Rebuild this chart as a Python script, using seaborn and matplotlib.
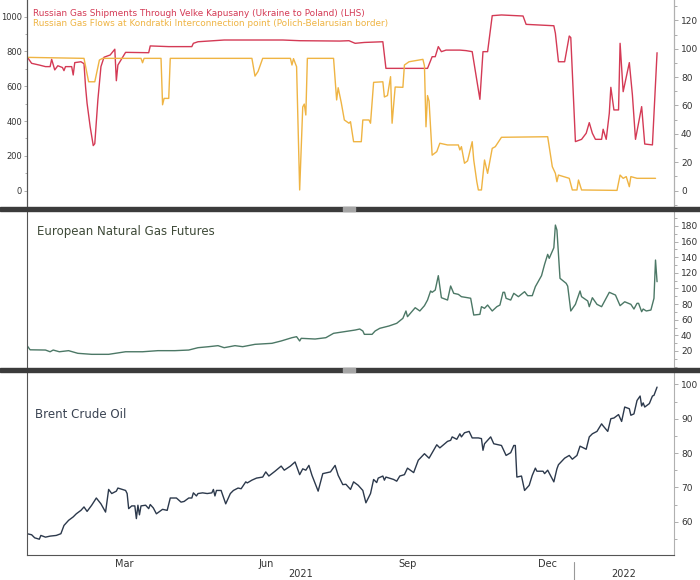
import pandas as pd
import matplotlib
matplotlib.use("Agg")
import matplotlib.pyplot as plt
import matplotlib.dates as mdates
import matplotlib.transforms as mtransforms
from matplotlib.ticker import MultipleLocator, NullFormatter
import seaborn as sns

# Russian gas shipments through Velke Kapusany (LHS)
red_dates = ["2021-01-11", "2021-01-14", "2021-01-19", "2021-01-23", "2021-01-26", "2021-01-27",
             "2021-01-28", "2021-01-29", "2021-01-31", "2021-02-03", "2021-02-04", "2021-02-05",
             "2021-02-09", "2021-02-10", "2021-02-11", "2021-02-15", "2021-02-17", "2021-02-18",
             "2021-02-19", "2021-02-21", "2021-02-23", "2021-02-24", "2021-02-26", "2021-02-28",
             "2021-03-02", "2021-03-06", "2021-03-09", "2021-03-10", "2021-03-11", "2021-03-16",
             "2021-03-31", "2021-04-01", "2021-04-13", "2021-04-28", "2021-04-29", "2021-05-02",
             "2021-05-19", "2021-06-26", "2021-07-07", "2021-08-02", "2021-08-08", "2021-08-12",
             "2021-08-18", "2021-08-30", "2021-09-01", "2021-09-14", "2021-09-28", "2021-10-01",
             "2021-10-03", "2021-10-05", "2021-10-07", "2021-10-10", "2021-10-19", "2021-10-23",
             "2021-10-27", "2021-11-01", "2021-11-03", "2021-11-06", "2021-11-09", "2021-11-15",
             "2021-11-29", "2021-12-01", "2021-12-19", "2021-12-20", "2021-12-22", "2021-12-26",
             "2021-12-29", "2021-12-30", "2022-01-02", "2022-01-06", "2022-01-09", "2022-01-11",
             "2022-01-13", "2022-01-15", "2022-01-19", "2022-01-20", "2022-01-22", "2022-01-24",
             "2022-01-25", "2022-01-27", "2022-01-30", "2022-01-31", "2022-02-02", "2022-02-06",
             "2022-02-08", "2022-02-10", "2022-02-14", "2022-02-16", "2022-02-21", "2022-02-24"]
red_vals = [770, 732, 722, 713, 713, 755,
            725, 694, 718, 708, 690, 713,
            713, 665, 736, 741, 730, 598,
            502, 368, 259, 270, 521, 713,
            767, 780, 813, 632, 722, 795,
            793, 832, 828, 828, 847, 856,
            866, 866, 862, 860, 862, 847,
            852, 856, 703, 703, 703, 770,
            770, 828, 799, 808, 808, 805,
            799, 525, 799, 799, 1006, 1010,
            1004, 956, 948, 905, 741, 741,
            889, 880, 282, 295, 330, 391,
            330, 295, 295, 353, 295, 445,
            594, 464, 464, 847, 569, 736,
            550, 295, 483, 268, 263, 793]

# Russian gas flows at Kondratki (RHS)
yel_dates = ["2021-01-11", "2021-02-17", "2021-02-20", "2021-02-24", "2021-02-27", "2021-03-01",
             "2021-03-26", "2021-03-27", "2021-03-28", "2021-04-08", "2021-04-09", "2021-04-10",
             "2021-04-13", "2021-04-14", "2021-06-06", "2021-06-08", "2021-06-10", "2021-06-13",
             "2021-07-01", "2021-07-02", "2021-07-03", "2021-07-05", "2021-07-07", "2021-07-09",
             "2021-07-10", "2021-07-11", "2021-07-12", "2021-07-29", "2021-07-31", "2021-08-01",
             "2021-08-03", "2021-08-05", "2021-08-08", "2021-08-09", "2021-08-11", "2021-08-16",
             "2021-08-17", "2021-08-21", "2021-08-22", "2021-08-24", "2021-08-30", "2021-08-31",
             "2021-09-02", "2021-09-04", "2021-09-05", "2021-09-07", "2021-09-12", "2021-09-13",
             "2021-09-16", "2021-09-25", "2021-09-26", "2021-09-27", "2021-09-28", "2021-09-29",
             "2021-10-01", "2021-10-04", "2021-10-06", "2021-10-11", "2021-10-18", "2021-10-19",
             "2021-10-20", "2021-10-22", "2021-10-24", "2021-10-27", "2021-10-28", "2021-10-30",
             "2021-10-31", "2021-11-02", "2021-11-04", "2021-11-06", "2021-11-09", "2021-11-11",
             "2021-11-15", "2021-12-15", "2021-12-18", "2021-12-20", "2021-12-21", "2021-12-22",
             "2021-12-29", "2021-12-31", "2022-01-03", "2022-01-04", "2022-01-06", "2022-01-29",
             "2022-01-31", "2022-02-02", "2022-02-04", "2022-02-06", "2022-02-07", "2022-02-11",
             "2022-02-23"]
yel_vals = [93.9, 93.2, 76.7, 76.7, 92, 93.2,
            93.2, 90.1, 93.2, 93.2, 60.5, 65,
            65, 93.2, 93.2, 80.7, 84, 93.2,
            93.2, 88.5, 93, 87.3, 0.5, 59,
            61, 53.3, 93.2, 93.2, 63.9, 72.5,
            62, 49.8, 47.5, 48.6, 34.5, 34.5,
            49.8, 49.8, 47.5, 76.3, 76.7, 66,
            67, 80.3, 47.5, 73, 72.8, 88.5,
            90.8, 92.5, 88, 45, 67, 63,
            25, 27.5, 33.4, 32.2, 32.2, 28.7,
            31, 19.3, 21, 34.5, 21.6, 6.3,
            0.5, 0.5, 21.6, 12.2, 29.8, 31,
            37.6, 38, 16.9, 12.2, 6.3, 11,
            8.7, 0.5, 0.5, 7.5, 0.5, 0.2,
            11, 8.7, 9.9, 2.8, 9.9, 8.7,
            8.7]

# European natural gas futures
gas_dates = ["2021-01-11", "2021-01-13", "2021-01-23", "2021-01-26", "2021-01-28", "2021-02-01",
             "2021-02-07", "2021-02-13", "2021-02-22", "2021-03-05", "2021-03-16", "2021-03-27",
             "2021-04-06", "2021-04-17", "2021-04-26", "2021-05-02", "2021-05-09", "2021-05-15",
             "2021-05-19", "2021-05-26", "2021-05-31", "2021-06-08", "2021-06-19", "2021-06-25",
             "2021-07-02", "2021-07-05", "2021-07-07", "2021-07-08", "2021-07-17", "2021-07-24",
             "2021-07-29", "2021-08-05", "2021-08-12", "2021-08-15", "2021-08-17", "2021-08-18",
             "2021-08-23", "2021-08-25", "2021-08-28", "2021-09-03", "2021-09-08", "2021-09-12",
             "2021-09-14", "2021-09-15", "2021-09-20", "2021-09-23", "2021-09-26", "2021-09-28",
             "2021-09-30", "2021-10-01", "2021-10-03", "2021-10-05", "2021-10-06", "2021-10-07",
             "2021-10-11", "2021-10-13", "2021-10-15", "2021-10-18", "2021-10-20", "2021-10-24",
             "2021-10-26", "2021-10-28", "2021-11-01", "2021-11-02", "2021-11-04", "2021-11-06",
             "2021-11-09", "2021-11-12", "2021-11-14", "2021-11-16", "2021-11-17", "2021-11-18",
             "2021-11-21", "2021-11-23", "2021-11-26", "2021-11-30", "2021-12-02", "2021-12-05",
             "2021-12-07", "2021-12-11", "2021-12-13", "2021-12-15", "2021-12-16", "2021-12-19",
             "2021-12-20", "2021-12-21", "2021-12-23", "2021-12-27", "2021-12-28", "2021-12-30",
             "2022-01-02", "2022-01-05", "2022-01-06", "2022-01-10", "2022-01-11", "2022-01-13",
             "2022-01-16", "2022-01-19", "2022-01-24", "2022-01-28", "2022-01-31", "2022-02-03",
             "2022-02-07", "2022-02-09", "2022-02-11", "2022-02-12", "2022-02-14", "2022-02-15",
             "2022-02-17", "2022-02-20", "2022-02-22", "2022-02-23", "2022-02-24"]
gas_vals = [27, 21.5, 21.2, 19, 21.2, 19,
            20.4, 17, 15.7, 15.7, 19, 19,
            20.4, 20.4, 21.2, 24.2, 25.5, 26.8,
            24.2, 26.8, 25.5, 28.5, 29.8, 32.8,
            37, 38.3, 32.8, 36.2, 35.3, 37,
            42.6, 44.7, 46.8, 48.1, 45.6, 41.3,
            41.3, 45.6, 49, 52, 55.4, 61.8,
            71.2, 63.9, 75.4, 71.2, 78, 85.2,
            96.8, 95.1, 98, 116.4, 102.3, 88.2,
            85.2, 103.2, 93.8, 92.5, 89.5, 88.2,
            87.5, 66, 66.9, 76.7, 74.6, 78.8,
            71.2, 76.7, 78.8, 95.1, 95.1, 87.4,
            85.2, 93.8, 89.5, 95.9, 90.8, 90.8,
            102.3, 116.4, 131, 143.7, 138.6, 152.2,
            181.2, 174.8, 113, 106.6, 103, 71.2,
            79.7, 96.8, 89.5, 84, 76.7, 88.2,
            79.7, 76.7, 95.1, 91.6, 78, 83,
            79.7, 73.7, 81, 81, 70.3, 73.7,
            71.2, 72.4, 87.4, 136.4, 108.7]

# Brent crude oil
brent_dates = ["2021-01-11", "2021-01-14", "2021-01-16", "2021-01-19", "2021-01-20", "2021-01-23",
               "2021-01-26", "2021-01-30", "2021-02-02", "2021-02-04", "2021-02-07", "2021-02-10",
               "2021-02-12", "2021-02-15", "2021-02-17", "2021-02-19", "2021-02-22", "2021-02-25",
               "2021-02-28", "2021-03-03", "2021-03-05", "2021-03-07", "2021-03-10", "2021-03-11",
               "2021-03-16", "2021-03-17", "2021-03-18", "2021-03-20", "2021-03-22", "2021-03-23",
               "2021-03-24", "2021-03-25", "2021-03-26", "2021-03-29", "2021-03-31", "2021-04-01",
               "2021-04-03", "2021-04-05", "2021-04-09", "2021-04-12", "2021-04-14", "2021-04-18",
               "2021-04-21", "2021-04-23", "2021-04-26", "2021-04-28", "2021-04-29", "2021-05-01",
               "2021-05-02", "2021-05-05", "2021-05-08", "2021-05-11", "2021-05-12", "2021-05-13",
               "2021-05-14", "2021-05-17", "2021-05-20", "2021-05-23", "2021-05-25", "2021-05-28",
               "2021-05-30", "2021-06-02", "2021-06-03", "2021-06-06", "2021-06-09", "2021-06-13",
               "2021-06-15", "2021-06-17", "2021-06-21", "2021-06-25", "2021-06-27", "2021-07-01",
               "2021-07-04", "2021-07-07", "2021-07-09", "2021-07-11", "2021-07-13", "2021-07-15",
               "2021-07-19", "2021-07-22", "2021-07-27", "2021-07-30", "2021-08-01", "2021-08-04",
               "2021-08-06", "2021-08-09", "2021-08-11", "2021-08-14", "2021-08-17", "2021-08-19",
               "2021-08-22", "2021-08-24", "2021-08-26", "2021-08-27", "2021-08-30", "2021-08-31",
               "2021-09-01", "2021-09-06", "2021-09-08", "2021-09-10", "2021-09-13", "2021-09-15",
               "2021-09-19", "2021-09-22", "2021-09-26", "2021-09-29", "2021-10-04", "2021-10-06",
               "2021-10-11", "2021-10-13", "2021-10-14", "2021-10-17", "2021-10-19", "2021-10-20",
               "2021-10-22", "2021-10-25", "2021-10-27", "2021-10-31", "2021-11-02", "2021-11-03",
               "2021-11-04", "2021-11-08", "2021-11-10", "2021-11-15", "2021-11-17", "2021-11-18",
               "2021-11-21", "2021-11-23", "2021-11-24", "2021-11-25", "2021-11-28", "2021-11-30",
               "2021-12-03", "2021-12-05", "2021-12-07", "2021-12-08", "2021-12-12", "2021-12-13",
               "2021-12-15", "2021-12-19", "2021-12-21", "2021-12-22", "2021-12-26", "2021-12-29",
               "2021-12-31", "2022-01-03", "2022-01-05", "2022-01-09", "2022-01-11", "2022-01-13",
               "2022-01-16", "2022-01-19", "2022-01-20", "2022-01-23", "2022-01-25", "2022-01-27",
               "2022-01-30", "2022-02-01", "2022-02-03", "2022-02-06", "2022-02-07", "2022-02-09",
               "2022-02-11", "2022-02-13", "2022-02-14", "2022-02-15", "2022-02-16", "2022-02-19",
               "2022-02-21", "2022-02-22", "2022-02-24"]
brent_vals = [56.5, 56.2, 55.3, 54.9, 56, 55.5,
              55.8, 56, 56.5, 58.9, 60.4, 61.4,
              62.3, 63.3, 64.3, 63, 64.8, 66.9,
              65.2, 62.8, 69.4, 68.2, 68.9, 69.8,
              69.1, 68.2, 63.8, 64.6, 64.6, 60.9,
              64.8, 62, 64.6, 64.8, 63.8, 65,
              64, 62.3, 63.6, 63.3, 66.9, 66.9,
              65.7, 65.9, 66.9, 66.9, 68.4, 67.5,
              68.2, 68.4, 68.2, 68.4, 69.4, 67.5,
              69.1, 69.1, 65.2, 68.2, 69.1, 69.8,
              69.6, 71.6, 71.3, 72.1, 72.7, 73,
              74.5, 73.3, 74.7, 76.2, 75, 76.2,
              77.4, 73.7, 75.4, 75, 76.4, 73.5,
              68.9, 74, 74.5, 76.4, 73.5, 70.8,
              70.9, 69.4, 71.6, 70.6, 69.1, 65.5,
              68.2, 72.3, 71.4, 72.7, 73.3, 72.1,
              73, 72.3, 71.8, 73.3, 73.7, 75.6,
              74.3, 77.9, 79.8, 78.5, 82.4, 81.5,
              83.4, 83.7, 84.7, 84, 85.6, 84.7,
              85.9, 86.3, 84.4, 84.4, 84.2, 80.8,
              82.7, 84.7, 82.7, 82.2, 80.3, 79.3,
              80.1, 82.2, 82.2, 73, 73.3, 69.1,
              70.6, 73.5, 75.6, 74.7, 74.7, 74,
              75, 71.6, 75.4, 76.6, 78.5, 79.3,
              78.2, 79.3, 82, 81.1, 84.7, 85.6,
              86.3, 88.5, 87.9, 86.3, 90, 90.2,
              91.2, 89.2, 93.4, 92.9, 91, 91.4,
              95.3, 96.6, 93.7, 94.6, 93.4, 94.4,
              96.6, 96.8, 99.2]

red_label = "Russian Gas Shipments Through Velke Kapusany (Ukraine to Poland) (LHS)"
yel_label = "Russian Gas Flows at Kondratki Interconnection point (Polich-Belarusian border)"
gas_label = "European Natural Gas Futures"
brent_label = "Brent Crude Oil"

RED = "#d43a55"
YEL = "#efb443"
GREEN = "#4c7866"
NAVY = "#2c394c"

sns.set_style("white")
plt.rcParams["font.family"] = ["Liberation Sans Narrow", "DejaVu Sans"]

W, H = 700, 580
fig = plt.figure(figsize=(7, 5.8), dpi=100)

def px_axes(top, bottom):
    return fig.add_axes([27 / W, (H - bottom) / H, 647 / W, (bottom - top) / H])

x0, x1 = pd.Timestamp("2021-01-11"), pd.Timestamp("2022-03-07")

ax1 = px_axes(0, 207)
ax1r = ax1.twinx()
ax2 = px_axes(211, 368)
ax3 = px_axes(372, 555)

sns.lineplot(x=pd.to_datetime(red_dates), y=red_vals, ax=ax1, color=RED, linewidth=1.0)
sns.lineplot(x=pd.to_datetime(yel_dates), y=yel_vals, ax=ax1r, color=YEL, linewidth=1.0)
sns.lineplot(x=pd.to_datetime(gas_dates), y=gas_vals, ax=ax2, color=GREEN, linewidth=1.0)
sns.lineplot(x=pd.to_datetime(brent_dates), y=brent_vals, ax=ax3, color=NAVY, linewidth=1.0)

ax1.set_ylim(-94, 1096)
ax1r.set_ylim(-11.5, 134.3)
ax2.set_ylim(-1.8, 199.2)
ax3.set_ylim(50.3, 103.6)

for ax in (ax1, ax1r, ax2, ax3):
    ax.set_xlim(x0, x1)
    ax.set_xlabel("")
    ax.set_ylabel("")
    ax.spines["top"].set_visible(False)
    ax.spines["left"].set_color("#555555")
    ax.spines["left"].set_linewidth(0.8)
    ax.spines["right"].set_color("#b0b0b0")
    ax.spines["right"].set_linewidth(0.8)
    ax.tick_params(axis="y", which="both", colors="#a0a0a0", labelcolor="#333333",
                   labelsize=6.5, length=3, width=0.6, pad=2)
    ax.tick_params(axis="y", which="minor", length=2)

for ax in (ax1, ax1r, ax2):
    ax.spines["bottom"].set_visible(False)
    ax.tick_params(axis="x", which="both", bottom=False, labelbottom=False)

# top panel: left axis for shipments, right axis for flows
ax1.yaxis.set_major_locator(MultipleLocator(200))
ax1.yaxis.set_minor_locator(MultipleLocator(100))
ax1.tick_params(axis="y", which="both", left=True, right=False, labelsize=6, length=2.5, pad=1)
ax1.tick_params(axis="y", which="minor", length=1.5)
ax1r.yaxis.set_major_locator(MultipleLocator(20))
ax1r.yaxis.set_minor_locator(MultipleLocator(10))

# middle panel
ax2.yaxis.tick_right()
ax2.set_yticks(range(20, 200, 20))
ax2.yaxis.set_minor_locator(MultipleLocator(10))

# bottom panel
ax3.yaxis.tick_right()
ax3.yaxis.set_major_locator(MultipleLocator(10))
ax3.yaxis.set_minor_locator(MultipleLocator(5))
ax3.spines["bottom"].set_color("#555555")
ax3.spines["bottom"].set_linewidth(0.8)
ax3.xaxis.set_major_locator(mdates.MonthLocator())
ax3.xaxis.set_major_formatter(NullFormatter())
ax3.xaxis.set_minor_locator(mdates.MonthLocator(bymonth=[3, 6, 9, 12], bymonthday=15))
ax3.xaxis.set_minor_formatter(mdates.DateFormatter("%b"))
ax3.tick_params(axis="x", which="major", direction="out", length=4, width=0.6, colors="#888888")
ax3.tick_params(axis="x", which="minor", length=0, labelsize=7, labelcolor="#333333", pad=3)

# year labels under the month labels
trans = mtransforms.blended_transform_factory(ax3.transData, ax3.transAxes)
for yr in (2021, 2022):
    a = max(pd.Timestamp(f"{yr}-01-01"), x0)
    b = min(pd.Timestamp(f"{yr + 1}-01-01"), x1)
    ax3.text(a + (b - a) / 2, -0.104, str(yr), transform=trans, ha="center", va="center",
             fontsize=7, color="#333333")
ax3.plot([pd.Timestamp("2022-01-01")] * 2, [-0.04, -0.14], transform=trans, clip_on=False,
         color="#999999", linewidth=0.8)

# series labels
fig.text(33 / W, 1 - 14 / H, red_label, color=RED, fontsize=6.4, va="center")
fig.text(33 / W, 1 - 23 / H, yel_label, color=YEL, fontsize=6.4, va="center")
ax2.text(37 / W, 1 - 231 / H, gas_label, transform=fig.transFigure, color="#3e4a38",
         fontsize=8.5, va="center")
ax3.text(35 / W, 1 - 414 / H, brent_label, transform=fig.transFigure, color="#3a4352",
         fontsize=8.5, va="center")

# panel separators
for top, bottom in ((207, 211), (368, 372)):
    fig.add_artist(plt.Rectangle((0, (H - bottom) / H), 1, (bottom - top) / H,
                                 transform=fig.transFigure, color="#3b3b3b", zorder=10))
    fig.add_artist(plt.Rectangle((343 / W, (H - bottom) / H), 12 / W, (bottom - top) / H,
                                 transform=fig.transFigure, color="#a5a5a5", zorder=11))

fig.savefig("out.png", dpi=100)
